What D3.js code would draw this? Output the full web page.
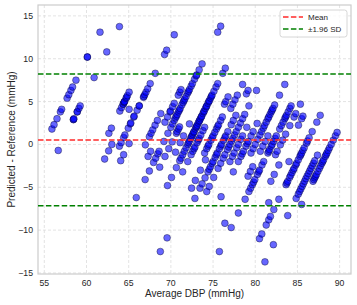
<!DOCTYPE html>
<html>
<head>
<meta charset="utf-8">
<script src="https://cdn.jsdelivr.net/npm/d3@7"></script>
<style>
  body { margin: 0; background: #fff; }
  text { font-family: "Liberation Sans", Arial, sans-serif; fill: #262626; }
</style>
</head>
<body>
<div id="chart"></div>
<script>
var refLevels = [55, 57, 62, 63, 64, 65, 67, 68, 69, 70, 71, 72, 73, 74.5, 74, 75, 76, 77, 78, 79, 80, 81, 82, 83, 84, 85, 86, 88, 89];
var streakDiffs = [
  [1.8, 2.3, 3.0, 3.8, 4.1, 5.4, 5.8, 6.3, 6.7, 7.5],
  [-0.7, 2.9, 2.9, 3.0, 3.8, 3.8, 4.2, 4.5],
  [1.3, 1.9, 3.9, 4.3, 4.7, 4.7, 4.9, 5.0, 5.0, 5.4, 5.5, 5.7, 6.1],
  [-1.7, -0.75, 0.0, 4.1],
  [-0.2, 0.2, 0.8, 1.1, 1.9, 2.4, 2.5, 3.2, 3.3, 4.0, 4.5, 4.5, 5.5, 5.6, 5.8, 6.1, 6.5, 7.1, 8.3, 10.5, 11.0, 12.8],
  [-1.9, -1.2, 0.1],
  [-0.05, 0.9, 1.3, 1.7, 2.25, 2.8, 3.6],
  [-1.4, -0.8, 2.6, 3.2, 3.8, 3.9, 4.4, 4.8, 5.75, 6.1, 6.4],
  [-6.2, -4.1, -3.1, -2.1, -1.6, -1.1, -0.8, 0.35, 1.3, 2.0, 2.4, 2.8, 3.1, 3.3, 3.5, 3.8, 4.0, 4.2, 4.6, 4.9, 5.1, 5.3, 5.6, 6.0, 6.2, 6.4, 6.8, 7.1, 7.6, 8.0, 8.1, 8.7, 9.4, 13.1, 13.8],
  [-2.65, -1.4, -0.5, 0.3, 1.3, 1.5, 1.8, 2.05],
  [-0.9, 0.2, 1.0, 2.4],
  [-4.8, -3.85, -2.7, -1.9, -1.6, -1.2, -0.8, -0.4, 0.0, 0.2, 0.4, 0.7, 0.9, 1.0, 1.2, 1.4, 1.5, 1.8, 2.0, 2.1, 2.25, 2.5, 2.7, 2.8, 3.0, 3.2, 3.3, 3.6, 3.8, 3.9, 4.2, 4.4, 4.5, 4.8, 5.0, 5.1, 5.4, 5.6, 5.75, 6.2, 6.7, 7.1, 8.3, 8.9],
  [-3.2, -2.0, -1.2, -0.8, -0.5, -0.3, 0.2, 0.5, 0.7, 1.1, 1.6, 2.0],
  [-1.0, -0.5, -0.2, 0.0, 0.5, 0.8, 1.0, 1.4, 1.8, 2.1, 2.3, 2.8, 3.2],
  [4.7, 5.0, 5.55],
  [-12.5, -10.9, -5.1, -4.2, -3.0, -1.8, 4.2, 4.7, 5.2, 5.75, 7.0],
  [-6.3, -5.1, -4.6, -3.9, -3.2, -2.9, -2.6, -2.2, -2.0, -1.5, -1.2, -1.0, -0.5, -0.2, 0.0, 0.5, 0.8, 1.0, 1.5, 2.3, 2.8, 3.4, 5.9, 6.3],
  [-5.5, -4.9, -3.85, -2.8, -2.2, -1.6, -1.2, -0.6, -0.3, 0.0, 0.4, 0.7, 1.1, 1.5, 2.0, 2.5, 3.0, 3.5, 4.5, 6.3],
  [-2.0, -1.4, -1.0, -0.4, 0.0, 0.6, 1.0, 2.0],
  [-6.1, -3.2, -2.0, -1.4, -1.1, -0.8, -0.2, 0.1, 0.35, 1.0, 1.5, 2.45],
  [-1.0, -0.5, 0.0, 0.6, 1.1, 1.5, 1.9, 2.2, 2.6, 3.0, 3.2, 3.5, 3.8, 4.0, 4.2, 4.6, 5.75, 7.0],
  [-9.2, -3.7, -3.15, -2.6, -0.8, -0.2, 0.35, 1.0],
  [-12.5, -9.7, -8.0, -6.4, -5.5, -5.1, -4.7, -4.4, -4.1, -3.5, -3.2, -3.0, -2.4, -2.0, -1.0, -0.8, -0.6, -0.2, 0.0, 0.35, 0.7, 1.0, 1.8, 2.2, 2.6, 3.0, 3.2, 3.4, 3.8, 4.2, 4.5],
  [-1.2, -0.8, -0.05, 0.5, 1.2, 2.2, 3.2, 3.6, 4.7],
  [-4.3, -3.5, -2.4, 2.25, 3.0, 3.3],
  [-6.8, -2.0],
  [-11.0, -10.45, -9.4, -8.8, -8.4, -7.6, -6.4, -4.7, -4.5, -4.3, -3.85, -3.6, -3.3, -3.0, -2.8, -2.4, -2.2, -1.8, -1.4, -1.2, -1.0, -0.7, -0.4, 0.15, 0.4, 0.77, 1.5, 2.6, 3.4],
  [-13.7, -11.7, -8.3, -6.3, -5.8, -5.5, -5.2, -4.9, -4.6, -4.3, -4.0, -3.7, -3.4, -3.1, -2.8, -2.5, -2.2, -1.9, -1.25],
  [-7.0, -4.3, -4.1, -3.9, -3.7, -3.5, -3.15, -2.8, -2.5, -2.2, -2.0, -1.8, -1.4, -1.2, -1.0, -0.7, -0.4, 0.0, 0.5, 1.0, 1.4]
];
// loose points off the streaks (average, difference)
var outlierAvg = [60.1, 60.1, 60.9, 61.6, 62.4, 63.9];
var outlierDiff = [10.2, 10.2, 7.8, 13.1, 10.8, 13.75];

var meanDiff = 0.53;
var upperLoA = 8.22;
var lowerLoA = -7.16;

var xTicks = [55, 60, 65, 70, 75, 80, 85, 90];
var yTicks = [-15, -10, -5, 0, 5, 10, 15];

var width = 357, height = 305;
var margin = {left: 38, right: 6, top: 5, bottom: 31};

var points = [];
refLevels.forEach(function(r, i) {
  streakDiffs[i].forEach(function(d) {
    // average of reference and predicted (= reference + difference)
    points.push({avg: r + d / 2, diff: d});
  });
});
outlierAvg.forEach(function(a, i) { points.push({avg: a, diff: outlierDiff[i]}); });

var x = d3.scaleLinear().domain([54.25, 91.35]).range([margin.left, width - margin.right]);
var y = d3.scaleLinear().domain([-15.12, 16.27]).range([height - margin.bottom, margin.top]);

var svg = d3.select("#chart").append("svg")
    .attr("width", width)
    .attr("height", height);

// grid
svg.append("g").selectAll("line").data(xTicks).enter().append("line")
    .attr("x1", function(d) { return x(d); }).attr("x2", function(d) { return x(d); })
    .attr("y1", y.range()[1]).attr("y2", y.range()[0])
    .attr("stroke", "#dcdcdc").attr("stroke-width", 0.8).attr("stroke-dasharray", "3,2");
svg.append("g").selectAll("line").data(yTicks).enter().append("line")
    .attr("y1", function(d) { return y(d); }).attr("y2", function(d) { return y(d); })
    .attr("x1", x.range()[0]).attr("x2", x.range()[1])
    .attr("stroke", "#dcdcdc").attr("stroke-width", 0.8).attr("stroke-dasharray", "3,2");

// frame
svg.append("rect")
    .attr("x", x.range()[0]).attr("y", y.range()[1])
    .attr("width", x.range()[1] - x.range()[0]).attr("height", y.range()[0] - y.range()[1])
    .attr("fill", "none").attr("stroke", "#cccccc").attr("stroke-width", 1.2);

// points
svg.append("g").selectAll("circle").data(points).enter().append("circle")
    .attr("cx", function(d) { return x(d.avg); })
    .attr("cy", function(d) { return y(d.diff); })
    .attr("r", 3.4)
    .attr("fill", "blue").attr("fill-opacity", 0.6)
    .attr("stroke", "#000022").attr("stroke-opacity", 0.65).attr("stroke-width", 0.6);

// mean and limits of agreement
var refLines = [{v: meanDiff, c: "#ff2a2a"}, {v: upperLoA, c: "#008000"}, {v: lowerLoA, c: "#008000"}];
svg.append("g").selectAll("line").data(refLines).enter().append("line")
    .attr("x1", x.range()[0]).attr("x2", x.range()[1])
    .attr("y1", function(d) { return y(d.v); }).attr("y2", function(d) { return y(d.v); })
    .attr("stroke", function(d) { return d.c; })
    .attr("stroke-width", 1.5).attr("stroke-dasharray", "5.5,2.4");

// tick labels
var fmt = function(d) { return d < 0 ? "\u2212" + Math.abs(d) : d; };
svg.append("g").selectAll("text").data(xTicks).enter().append("text")
    .attr("x", function(d) { return x(d); }).attr("y", y.range()[0] + 11.5)
    .attr("text-anchor", "middle").style("font-size", "8.7px")
    .text(fmt);
svg.append("g").selectAll("text").data(yTicks).enter().append("text")
    .attr("x", x.range()[0] - 5).attr("y", function(d) { return y(d); })
    .attr("dy", "0.34em")
    .attr("text-anchor", "end").style("font-size", "8.7px")
    .text(fmt);

// axis titles
svg.append("text")
    .attr("x", (x.range()[0] + x.range()[1]) / 2).attr("y", 297)
    .attr("text-anchor", "middle").style("font-size", "10px")
    .text("Average DBP (mmHg)");
svg.append("text")
    .attr("transform", "translate(14.5," + ((y.range()[0] + y.range()[1]) / 2) + ") rotate(-90)")
    .attr("text-anchor", "middle").style("font-size", "10px")
    .text("Predicted - Reference (mmHg)");

// legend
var legend = svg.append("g").attr("transform", "translate(280,10)");
legend.append("rect")
    .attr("width", 67).attr("height", 27).attr("rx", 2.5)
    .attr("fill", "#fff").attr("fill-opacity", 0.8)
    .attr("stroke", "#cccccc").attr("stroke-width", 0.8);
var items = [{t: "Mean", c: "#ff2a2a"}, {t: "\u00b11.96 SD", c: "#008000"}];
items.forEach(function(it, i) {
  var yy = 7 + i * 12;
  legend.append("line")
      .attr("x1", 3).attr("x2", 23).attr("y1", yy).attr("y2", yy)
      .attr("stroke", it.c).attr("stroke-width", 1.5).attr("stroke-dasharray", "5.5,2.4");
  legend.append("text")
      .attr("x", 28).attr("y", yy).attr("dy", "0.35em")
      .style("font-size", "8px")
      .text(it.t);
});
</script>
</body>
</html>
